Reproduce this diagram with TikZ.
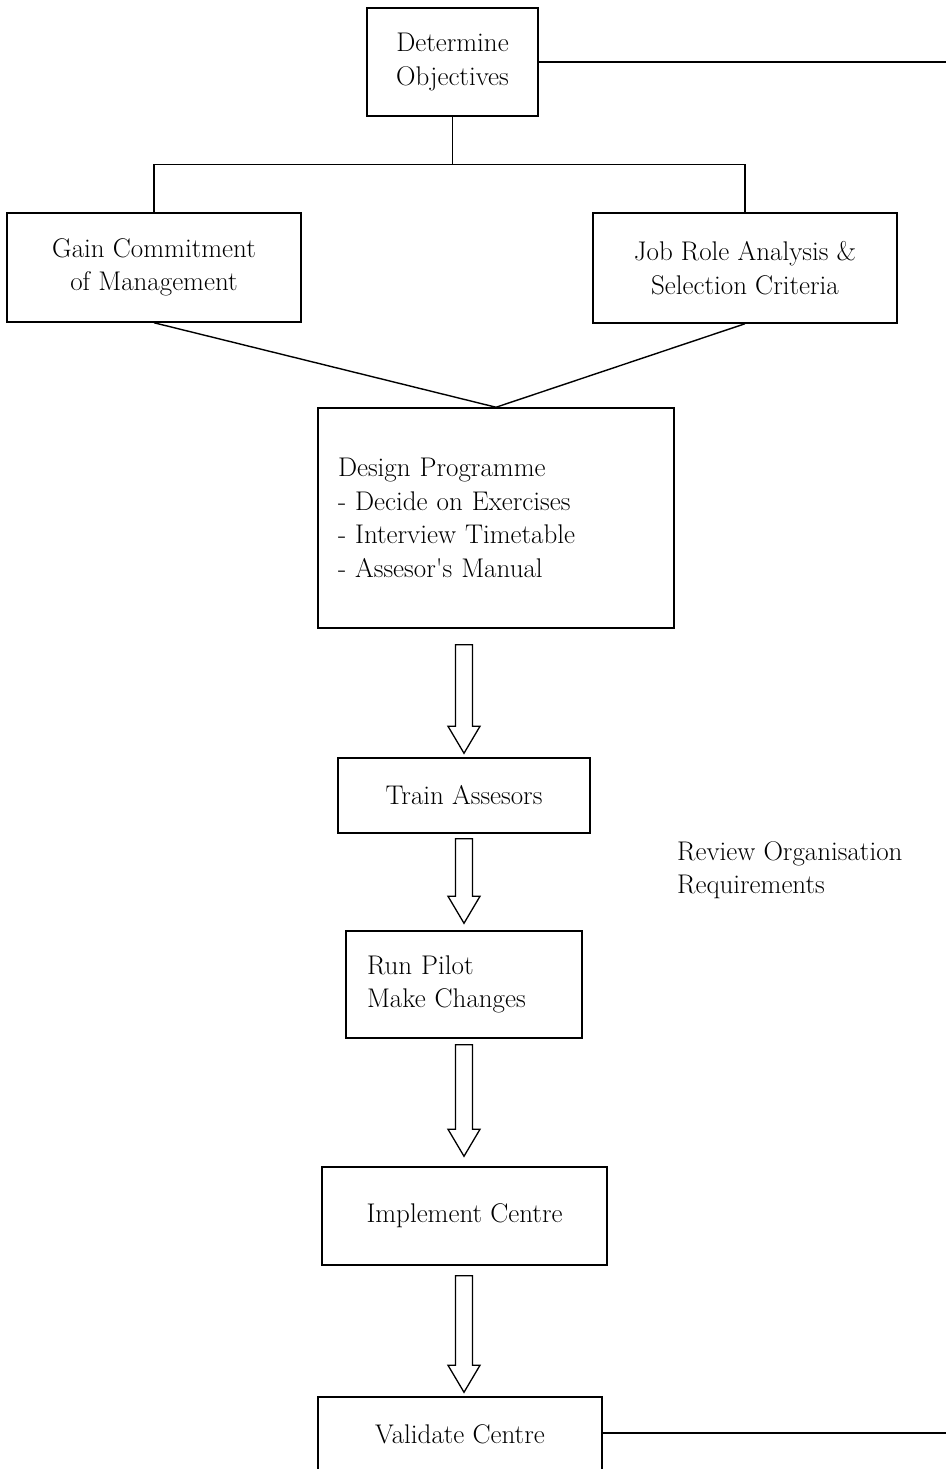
\documentclass[tikz,border=0pt]{standalone}
\usetikzlibrary{calc}
\begin{document}
\begin{tikzpicture}[x=1pt,y=-1pt,
  every node/.style={font=\fontsize{27}{33.5}\selectfont},
  box/.style={draw,line width=1.5pt,inner sep=0pt,align=center},
  link/.style={line width=1.4pt},
  hollowarrow/.style={draw,line width=1.3pt,fill=white,line join=miter}]
\useasboundingbox (0,0) rectangle (946,1469);

% process boxes
\node[box,minimum width=171,minimum height=108] (det) at (452.5,62) {Determine\\Objectives};
\node[box,minimum width=294,minimum height=109] (gain) at (154,267.5) {Gain Commitment\\of Management};
\node[box,minimum width=304,minimum height=110] (job) at (745,268) {Job Role Analysis \&\\Selection Criteria};
\node[box,minimum width=356,minimum height=220,text width=316,inner xsep=20pt,align=left] (design) at (496,518)
  {Design Programme\\- Decide on Exercises\\- Interview Timetable\\- Assesor\textquotesingle s Manual};
\node[box,minimum width=252,minimum height=75] (train) at (464,795.5) {Train Assesors};
\node[box,minimum width=236,minimum height=107,text width=194,inner xsep=21pt,align=left] (pilot) at (464,984.5)
  {Run Pilot\\Make Changes};
\node[box,minimum width=285,minimum height=98] (impl) at (464.5,1216) {Implement Centre};
\node[box,minimum width=284,minimum height=74] (valid) at (460,1434) {Validate Centre};
\node[anchor=west,align=left,inner sep=0pt] (review) at (677,870) {Review Organisation\\Requirements};

% tree links
\draw[link] (det.south) -- ++(0,48);
\draw[link] (gain.north) -- ++(0,-48) -| (job.north);
\draw[link] (gain.south) -- (design.north);
\draw[link] (job.south) -- (design.north);

% feedback lines to the right edge
\coordinate (outtop) at (946,62);
\coordinate (outbot) at (946,1433);
\draw[link] (det.east |- outtop) -- (outtop);
\draw[link] (valid.east |- outbot) -- (outbot);

% hollow block arrows
\newcommand{\blockarrow}[2]{%
  \path[hollowarrow] let \p1=(#1), \p2=(#2) in
    (\x1-8.5pt,\y1) -- (\x1+8.5pt,\y1) -- (\x1+8.5pt,\y2+27pt) -- (\x1+16pt,\y2+27pt)
    -- (\x1,\y2) -- (\x1-16pt,\y2+27pt) -- (\x1-8.5pt,\y2+27pt) -- cycle;}
\coordinate (a1s) at ($(design.south -| train.north)+(0,16)$);
\coordinate (a1e) at ($(train.north)+(0,-4)$);
\coordinate (a2s) at ($(train.south)+(0,5)$);
\coordinate (a2e) at ($(pilot.north -| train.north)+(0,-7)$);
\coordinate (a3s) at ($(pilot.south -| train.north)+(0,6)$);
\coordinate (a3e) at ($(impl.north -| train.north)+(0,-10)$);
\coordinate (a4s) at ($(impl.south -| train.north)+(0,10)$);
\coordinate (a4e) at ($(valid.north -| train.north)+(0,-4)$);
\blockarrow{a1s}{a1e}
\blockarrow{a2s}{a2e}
\blockarrow{a3s}{a3e}
\blockarrow{a4s}{a4e}
\end{tikzpicture}
\end{document}
